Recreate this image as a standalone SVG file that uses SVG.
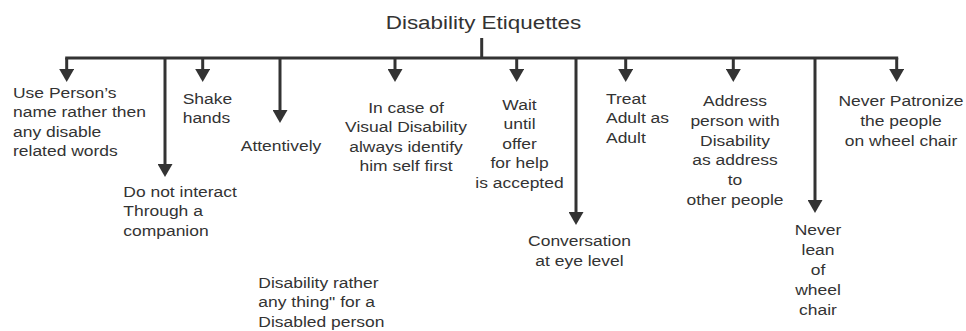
<svg xmlns="http://www.w3.org/2000/svg" width="966" height="331" viewBox="0 0 966 331">
<defs>
<style>
.t{font-family:"Liberation Sans",Arial,sans-serif;font-size:14.8px;fill:#333;}
.m{text-anchor:middle;}
.ttl{font-family:"Liberation Sans",Arial,sans-serif;font-size:19px;fill:#333;text-anchor:middle;}
.c{stroke:#333;stroke-width:3;fill:none;}
</style>
<marker id="ah" markerUnits="userSpaceOnUse" markerWidth="13" markerHeight="15" refX="3" refY="7.5" orient="auto">
<path d="M0,0 L13,7.5 L0,15 z" fill="#333"/>
</marker>
</defs>
<rect width="966" height="331" fill="#fff"/>
<g id="title"><text class="ttl" transform="translate(483.5,29) scale(1.18,1)">Disability Etiquettes</text></g>
<g id="connectors">
<line class="c" x1="481.7" y1="38" x2="481.7" y2="58"/>
<line class="c" x1="65.2" y1="58" x2="898.2" y2="58"/>
<line class="c" x1="66.7" y1="58" x2="66.7" y2="72" marker-end="url(#ah)"/>
<line class="c" x1="165" y1="58" x2="165" y2="167" marker-end="url(#ah)"/>
<line class="c" x1="202.7" y1="58" x2="202.7" y2="72" marker-end="url(#ah)"/>
<line class="c" x1="280" y1="58" x2="280" y2="113" marker-end="url(#ah)"/>
<line class="c" x1="395" y1="58" x2="395" y2="72" marker-end="url(#ah)"/>
<line class="c" x1="516.7" y1="58" x2="516.7" y2="72" marker-end="url(#ah)"/>
<line class="c" x1="576" y1="58" x2="576" y2="215" marker-end="url(#ah)"/>
<line class="c" x1="625.7" y1="58" x2="625.7" y2="72" marker-end="url(#ah)"/>
<line class="c" x1="733.3" y1="58" x2="733.3" y2="72" marker-end="url(#ah)"/>
<line class="c" x1="815" y1="58" x2="815" y2="203" marker-end="url(#ah)"/>
<line class="c" x1="896.7" y1="58" x2="896.7" y2="72" marker-end="url(#ah)"/>
</g>
<g id="n1"><text class="t" transform="translate(13,98) scale(1.18,1)"><tspan x="0" y="0">Use Person’s</tspan><tspan x="0" y="19.5">name rather then</tspan><tspan x="0" y="39">any disable</tspan><tspan x="0" y="58.5">related words</tspan></text></g>
<g id="n2"><text class="t" transform="translate(123.3,197) scale(1.18,1)"><tspan x="0" y="0">Do not interact</tspan><tspan x="0" y="19.5">Through a</tspan><tspan x="0" y="39">companion</tspan></text></g>
<g id="n3"><text class="t" transform="translate(182.7,104) scale(1.18,1)"><tspan x="0" y="0">Shake</tspan><tspan x="0" y="19">hands</tspan></text></g>
<g id="n4"><text class="t m" transform="translate(281,150.5) scale(1.18,1)">Attentively</text></g>
<g id="n5"><text class="t m" transform="translate(406,113) scale(1.18,1)"><tspan x="0" y="0">In case of</tspan><tspan x="0" y="19.5">Visual Disability</tspan><tspan x="0" y="39">always identify</tspan><tspan x="0" y="58.5">him self first</tspan></text></g>
<g id="n6"><text class="t m" transform="translate(519.5,110) scale(1.18,1)"><tspan x="0" y="0">Wait</tspan><tspan x="0" y="19.4">until</tspan><tspan x="0" y="38.8">offer</tspan><tspan x="0" y="58.2">for help</tspan><tspan x="0" y="77.6">is accepted</tspan></text></g>
<g id="n7"><text class="t m" transform="translate(579.5,246) scale(1.18,1)"><tspan x="0" y="0">Conversation</tspan><tspan x="0" y="20">at eye level</tspan></text></g>
<g id="n8"><text class="t" transform="translate(606,104) scale(1.18,1)"><tspan x="0" y="0">Treat</tspan><tspan x="0" y="19.3">Adult as</tspan><tspan x="0" y="38.6">Adult</tspan></text></g>
<g id="n9"><text class="t m" transform="translate(735,106) scale(1.18,1)"><tspan x="0" y="0">Address</tspan><tspan x="0" y="19.8">person with</tspan><tspan x="0" y="39.6">Disability</tspan><tspan x="0" y="59.4">as address</tspan><tspan x="0" y="79.2">to</tspan><tspan x="0" y="99">other people</tspan></text></g>
<g id="n10"><text class="t m" transform="translate(818,235) scale(1.18,1)"><tspan x="0" y="0">Never</tspan><tspan x="0" y="20">lean</tspan><tspan x="0" y="40">of</tspan><tspan x="0" y="60">wheel</tspan><tspan x="0" y="80">chair</tspan></text></g>
<g id="n11"><text class="t m" transform="translate(901,106) scale(1.18,1)"><tspan x="0" y="0">Never Patronize</tspan><tspan x="0" y="20">the people</tspan><tspan x="0" y="40">on wheel chair</tspan></text></g>
<g id="n12"><text class="t" transform="translate(258.3,288) scale(1.18,1)"><tspan x="0" y="0">Disability rather</tspan><tspan x="0" y="19.5">any thing" for a</tspan><tspan x="0" y="39">Disabled person</tspan></text></g>
</svg>
